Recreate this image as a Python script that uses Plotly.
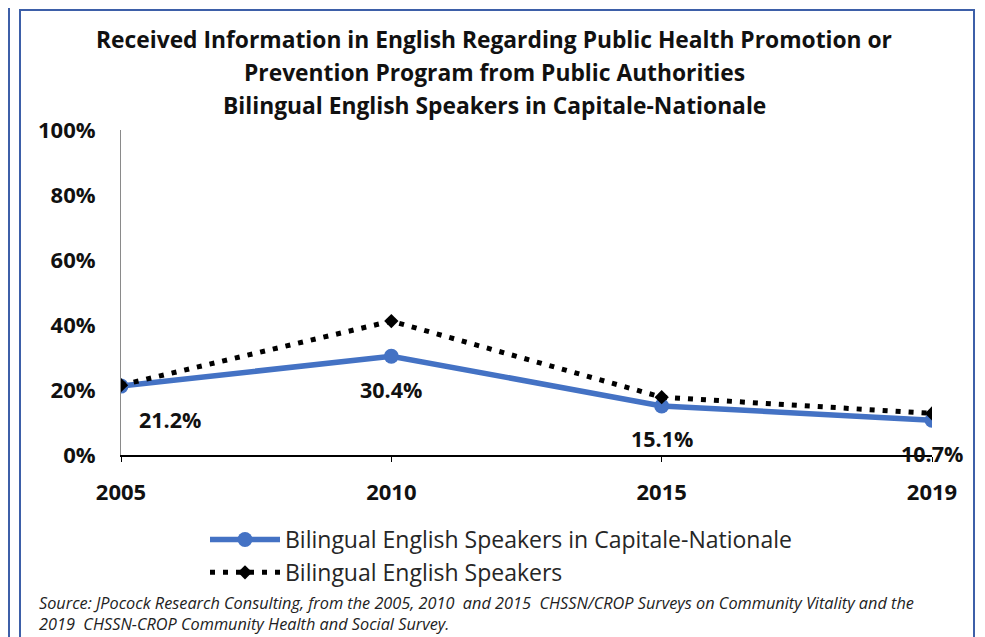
import plotly.graph_objects as go

# the page body adds an 8px margin, so the figure is drawn 8px in from the corner
OFF = 8
W, H = 985 - OFF, 637 - OFF

years = ["2005", "2010", "2015", "2019"]
capitale = [0.212, 0.304, 0.151, 0.107]
bilingual = [0.215, 0.412, 0.178, 0.128]
capitale_labels = ["21.2%", "30.4%", "15.1%", "10.7%"]
label_dx = [49, 0, 0, 0]

title_lines = [
    "Received Information in English Regarding Public Health Promotion or",
    "Prevention Program from Public Authorities",
    "Bilingual English Speakers in Capitale-Nationale",
]
source_lines = [
    "Source: JPocock Research Consulting, from the 2005, 2010  and 2015  CHSSN/CROP Surveys on Community Vitality and the",
    "2019  CHSSN-CROP Community Health and Social Survey.",
]

FONT = "'Open Sans', sans-serif"
FRAME = "#3D5FA8"


def px(x):
    return (x - OFF) / W


def py(y):
    return 1 - (y - OFF) / H


fig = go.Figure()

fig.add_trace(go.Scatter(
    x=years, y=capitale, mode="lines+markers",
    name="Bilingual English Speakers in Capitale-Nationale",
    line=dict(color="#4472C4", width=5.5),
    marker=dict(symbol="circle", size=15, color="#4472C4"),
))
fig.add_trace(go.Scatter(
    x=years, y=bilingual, mode="lines+markers",
    name="Bilingual English Speakers",
    line=dict(color="black", width=5, dash="5px,8px"),
    marker=dict(symbol="diamond", size=11, color="black"),
))

annotations = []
for i, (v, lab, dx) in enumerate(zip(capitale, capitale_labels, label_dx)):
    annotations.append(dict(
        x=i, y=v, xref="x", yref="y", text=lab, showarrow=False,
        xshift=dx, yshift=-33,
        font=dict(family=FONT, size=21.5, color="#111111", weight="bold"),
    ))

for i, line in enumerate(title_lines):
    annotations.append(dict(
        x=px(494), y=py(40 + i * 32.5), xref="paper", yref="paper",
        text=line, showarrow=False, xanchor="center", yanchor="middle",
        font=dict(family=FONT, size=22.8, color="#111111", weight="bold"),
    ))

for i, line in enumerate(source_lines):
    annotations.append(dict(
        x=px(37), y=py(603 + i * 21), xref="paper", yref="paper",
        text=line, showarrow=False, xanchor="left", yanchor="middle",
        font=dict(family=FONT, size=16.3, color="#222222", style="italic"),
    ))

shapes = [
    # main frame
    dict(type="rect", xref="paper", yref="paper",
         x0=px(20), x1=px(974), y0=py(660), y1=py(10),
         line=dict(color=FRAME, width=2)),
    # edge of the neighbouring panel
    dict(type="line", xref="paper", yref="paper",
         x0=px(9), x1=px(9), y0=py(660), y1=py(8),
         line=dict(color=FRAME, width=2)),
]

fig.update_layout(
    width=W, height=H,
    margin=dict(l=0, r=0, t=0, b=0, pad=0),
    paper_bgcolor="white", plot_bgcolor="white",
    showlegend=True,
    legend=dict(
        x=px(205), y=py(518), xanchor="left", yanchor="top",
        font=dict(family=FONT, size=23, color="#262626"),
        itemwidth=70, tracegroupgap=0,
        bgcolor="rgba(0,0,0,0)",
    ),
    annotations=annotations,
    shapes=shapes,
    xaxis=dict(
        domain=[px(121), px(932)], automargin=False,
        type="category", range=[0, 3],
        showgrid=False, showline=True, linecolor="black", linewidth=2,
        ticks="outside", ticklen=5, tickcolor="black",
        ticklabelstandoff=12,
        tickfont=dict(family=FONT, size=22, color="#111111", weight="bold"),
    ),
    yaxis=dict(
        domain=[py(455), py(130)], automargin=False,
        range=[0, 1], dtick=0.2, tickformat=".0%",
        showgrid=False, zeroline=False,
        showline=True, linecolor="#8a8a8a", linewidth=1,
        ticks="", ticklabelstandoff=20,
        tickfont=dict(family=FONT, size=22, color="#111111", weight="bold"),
    ),
)

fig.write_html("out.html")
